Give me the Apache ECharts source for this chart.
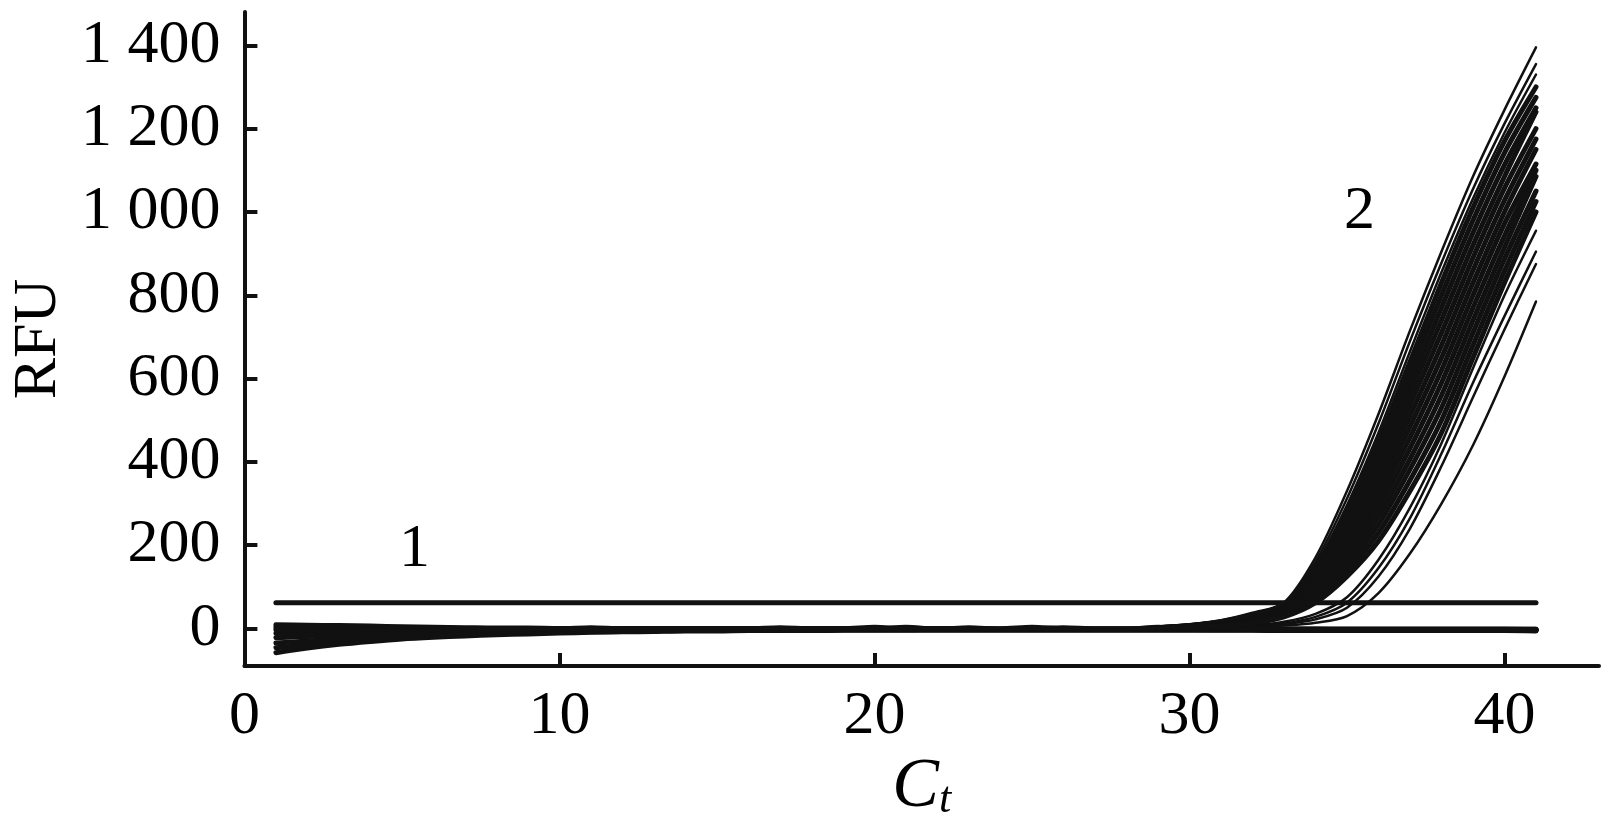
<!DOCTYPE html>
<html><head><meta charset="utf-8">
<script src="https://cdn.jsdelivr.net/npm/echarts@6/dist/echarts.min.js"></script>
<style>html,body{margin:0;padding:0;background:#fff}#c{width:1612px;height:834px}</style>
</head><body><div id="c"></div>
<script>
// ---- data ----
const cycles = [1,2,3,4,5,6,7,8,9,10,11,12,13,14,15,16,17,18,19,20,21,22,23,24,25,26,27,28,29,30,31,32,33,34,35,36,37,38,39,40,41];
const ampCycles = [29,30,31,32,33,34,35,36,37,38,39,40,41];
const xTickValues = [0,10,20,30,40];
const yTickValues = [0,200,400,600,800,1000,1200,1400];
const thresholdRFU = 62;
const thresholdSpan = [1,41];

// baseline (non-amplified / pre-amplification) traces, cycles 1..41
const blMain = [-3,-3,-3,-2,-2,-2,-2,-2,-1,-1, -1,0,-1,-1,-1,-1,2,-1,-1,-1, -2,-2,-2,-2,-2,-2,-2,-2,-2,-2, -2,-2,-3,-3,-3,-3,-3,-3,-3,-3,-4];
const blLow1 = [-58,-47,-38,-31,-25,-21,-18,-15,-13,-11, -9,-8,-7,-6,-6,-5,-5,-5,-4,-4, -4,-4,-4,-4,-4,-4,-4,-4,-4,-4, -4,-4,-5,-5,-5,-5,-5,-5,-5,-5,-6];
const blLow2 = [-46,-40,-33,-27,-22,-18,-15,-12,-10,-9, -8,-7,-6,-5,-5,-4,-4,-4,-3,-3, -3,-3,-3,-3,-3,-3,-3,-3,-3,-3, -3,-3,-4,-4,-4,-4,-4,-4,-4,-4,-5];
const blLow3 = [-35,-30,-25,-21,-17,-14,-11,-9,-8,-7, -6,-5,-5,-4,-4,-4,-3,-3,-3,-3, -3,-2,-2,-2,-2,-2,-2,-2,-2,-2, -2,-2,-3,-3,-3,-3,-3,-3,-3,-3,-4];
const blLow4 = [-22,-19,-16,-13,-11,-9,-7,-6,-5,-4, -4,-3,-3,-3,-2,-2,-2,-2,-2,-2, 3,-2,-2,-2,-1,-1,-1,-1,-1,-1, -1,-1,-2,-2,-2,-2,-2,-2,-2,-2,-3];
const blMid  = [-12,-10,-8,-6,-5,-4,-3,-3,-2,-2, -2,-2,-2,-2,-2,-2,-2,-2,-2,-2, -2,-2,2,-2,-2,-2,-2,-2,3,-2, -3,-3,-3,-3,-3,-3,-3,-3,-3,-3,-3];
const blHi1  = [9,8,7,6,4,3,2,1,1,0, 0,0,0,0,0,0,0,0,0,3, 0,0,-1,-1,-1,2,-1,-1,-1,-1, -1,-1,-1,-1,-2,-2,-2,-2,-2,-2,-2];
const blHi2  = [3,3,2,2,1,1,0,0,0,-1, 2,-1,-1,-1,-1,-1,-1,-1,-1,-1, -1,-1,-1,-1,3,-1,-1,-1,-1,-1, -2,-2,-2,-2,-2,-2,-2,-2,-2,-2,-2];

// amplification curves, cycles 29..41
const curveA1 = [3,10,20,38,62,170,330,515,715,905,1085,1245,1395];
const curveA2 = [3,9,19,36,60,160,312,492,690,878,1055,1212,1355];
const curveA3 = [2,8,18,34,59,152,296,470,665,855,1032,1190,1330];
const curveD0 = [2,7,16,32,58,145,280,450,640,830,1010,1170,1300];
const curveD1 = [2,7,15,30,56,138,267,430,614,800,980,1142,1275];
const curveD2 = [2,6,14,29,53,131,254,410,588,770,950,1113,1250];
const curveD3 = [2,6,14,27,51,124,241,390,563,740,920,1085,1240];
const curveD4 = [1,5,13,26,48,117,228,370,537,710,890,1057,1200];
const curveD5 = [1,5,12,24,46,110,216,350,511,680,860,1028,1175];
const curveD6 = [1,5,11,22,43,104,203,330,485,650,830,1000,1150];
const curveD7 = [1,4,10,21,41,97,190,310,459,620,800,972,1115];
const curveD8 = [1,4,9,19,38,90,177,290,433,590,770,943,1100];
const curveD9 = [1,3,8,18,36,83,164,270,407,560,740,915,1085];
const curveD10 = [0,3,8,16,33,76,151,250,382,530,710,887,1050];
const curveD11 = [0,2,7,14,31,69,138,230,356,500,680,858,1025];
const curveD12 = [0,2,6,13,28,62,125,210,330,470,650,830,1000];
const curveC0 = [0,1,3,7,16,35,75,165,290,445,625,800,955];
const curveC1 = [0,1,2,5,12,28,62,145,265,420,590,750,905];
const curveC2 = [0,1,2,4,10,22,50,125,240,390,555,718,875];
const curveC3 = [0,0,1,3,7,14,30,85,180,300,440,605,785];

const annotationPos = [[5.4,188],[35.4,1000]];
const annotationText = ['1','2'];

// ---- chart ----
const FONT = '"Liberation Serif","Times New Roman",serif';
const INK = '#111';
const baselines = [blLow1, blLow2, blLow3, blLow4, blMid, blHi1, blHi2, blMain];
const topCurves = [curveA1, curveA2, curveA3];
const bandCurves = [curveD0,curveD1,curveD2,curveD3,curveD4,curveD5,curveD6,curveD7,curveD8,curveD9,curveD10,curveD11,curveD12];
const lowCurves = [curveC0, curveC1, curveC2, curveC3];

function lineSeries(xs, ys, width, z) {
  return {
    type: 'line', data: xs.map((x, i) => [x, ys[i]]),
    showSymbol: false, smooth: 0.3, silent: true, z: z,
    lineStyle: { color: INK, width: width, cap: 'round', join: 'round' }
  };
}

const series = [];
baselines.forEach(b => series.push(lineSeries(cycles, b, 5, 2)));
lowCurves.forEach(c => series.push(lineSeries(ampCycles, c, 2.5, 3)));
bandCurves.forEach(c => series.push(lineSeries(ampCycles, c, 5, 3)));
topCurves.forEach(c => series.push(lineSeries(ampCycles, c, 2.5, 3)));
series.push({
  type: 'line', data: thresholdSpan.map(x => [x, thresholdRFU]),
  showSymbol: false, silent: true, z: 4,
  lineStyle: { color: INK, width: 5, cap: 'round' }
});
series.push({
  type: 'scatter', data: annotationPos, symbolSize: 0, silent: true, z: 5,
  itemStyle: { color: INK },
  label: { show: true, position: 'inside', color: '#000', opacity: 1, fontFamily: FONT, fontSize: 62,
           formatter: p => annotationText[p.dataIndex] }
});

function fmt(v) {
  if (v >= 1000) return Math.floor(v / 1000) + ' ' + String(v % 1000).padStart(3, '0');
  return String(v);
}

const chart = echarts.init(document.getElementById('c'), null, { renderer: 'canvas' });
chart.setOption({
  animation: false,
  backgroundColor: '#fff',
  grid: { left: 236, right: 13, top: 12, bottom: 168, containLabel: false },
  xAxis: {
    type: 'value', min: 0, max: 43,
    name: '{c|C}{t|t}', nameLocation: 'middle', nameGap: 78,
    nameTextStyle: { rich: {
      c: { fontFamily: FONT, fontStyle: 'italic', fontSize: 70, lineHeight: 72, color: '#000', verticalAlign: 'bottom' },
      t: { fontFamily: FONT, fontStyle: 'italic', fontSize: 44, lineHeight: 16, color: '#000', verticalAlign: 'bottom' }
    } },
    axisLine: { show: true, onZero: false, lineStyle: { color: INK, width: 4 } },
    axisTick: { show: true, inside: true, length: 13, lineStyle: { color: INK, width: 4 }, customValues: xTickValues },
    axisLabel: { fontFamily: FONT, fontSize: 62, color: '#000', margin: 20, customValues: xTickValues },
    splitLine: { show: false }
  },
  yAxis: {
    type: 'value', min: -90, max: 1480,
    name: 'RFU', nameLocation: 'middle', nameGap: 170,
    nameTextStyle: { fontFamily: FONT, fontSize: 62, color: '#000' },
    axisLine: { show: true, onZero: false, lineStyle: { color: INK, width: 4 } },
    axisTick: { show: true, inside: true, length: 13, lineStyle: { color: INK, width: 4 }, customValues: yTickValues },
    axisLabel: { fontFamily: FONT, fontSize: 62, color: '#000', margin: 24, formatter: fmt, customValues: yTickValues },
    splitLine: { show: false }
  },
  series: series
});
</script>
</body></html>
